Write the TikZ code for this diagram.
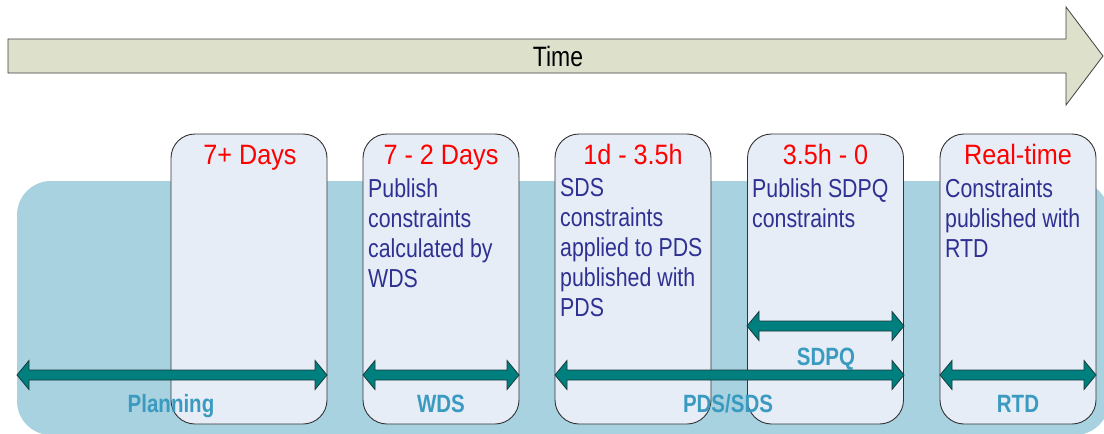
\documentclass[tikz,border=0pt]{standalone}
\usepackage{fontspec}
\setmainfont{Liberation Sans}[FakeStretch=0.82]
\newfontfamily\titlefont{Liberation Sans}[FakeStretch=0.9]
\definecolor{bgblue}{HTML}{A8D2E0}
\definecolor{boxfill}{HTML}{E6EDF7}
\definecolor{boxline}{HTML}{333333}
\definecolor{teal1}{HTML}{007F7F}
\definecolor{tealline}{HTML}{1A3A3A}
\definecolor{lblblue}{HTML}{3A9AC0}
\definecolor{navytext}{HTML}{2E3192}
\definecolor{timefill}{HTML}{DDE1CB}
\tikzset{
  phase/.style={draw=boxline, fill=boxfill, rounded corners=24pt, minimum width=156pt, minimum height=290pt, inner sep=0pt, line width=0.9pt},
  ttl/.style={text=red, font=\titlefont\fontsize{28}{30}\selectfont, anchor=base, inner sep=0pt},
  body/.style={text=navytext, font=\fontsize{26}{30}\selectfont, anchor=north west, align=left, inner sep=0pt},
  lbl/.style={text=lblblue, font=\bfseries\fontsize{25}{28}\selectfont, anchor=base, inner sep=0pt},
  arr/.style={fill=teal1, draw=tealline, line width=0.8pt, line join=miter},
}
\newcommand\spanarrow[3]{%
  \draw[arr] (#1,#3) -- (#1+12,#3-14.5) -- (#1+12,#3-5) -- (#2-12,#3-5) -- (#2-12,#3-14.5) -- (#2,#3) -- (#2-12,#3+14.5) -- (#2-12,#3+5) -- (#1+12,#3+5) -- (#1+12,#3+14.5) -- cycle;}
\begin{document}
\begin{tikzpicture}[x=1pt,y=-1pt]
\useasboundingbox (0,0) rectangle (1104,434);
\begin{scope}
\clip (0,0) rectangle (1104,434);
% background panel
\fill[bgblue, rounded corners=34pt] (17,181) rectangle (1109,435);
% time arrow
\draw[fill=timefill, draw=black!75, line width=0.8pt, line join=miter]
  (8,39) -- (1066,39) -- (1066,7) -- (1103,56) -- (1066,105) -- (1066,73) -- (8,73) -- cycle;
\end{scope}
\node[font=\fontsize{28}{30}\selectfont, inner sep=0pt] (time) at (558,56) {Time};
% phase boxes
\node[phase] (b1) at (249,279) {};
\node[phase] (b2) at (441,279) {};
\node[phase] (b3) at (633,279) {};
\node[phase] (b4) at (825.5,279) {};
\node[phase] (b5) at (1018,279) {};
% titles
\node[ttl] (t1) at (250,164) {7+ Days};
\node[ttl] (t2) at (441,164) {7 - 2 Days};
\node[ttl] (t3) at (633,164) {1d - 3.5h};
\node[ttl] (t4) at (825.5,164) {3.5h - 0};
\node[ttl] (t5) at (1018,164) {Real-time};
% body texts
\node[body] (d2) at (368,178) {Publish\\constraints\\calculated by\\WDS};
\node[body] (d3) at (560,178) {SDS\\constraints\\applied to PDS\\published with\\PDS};
\node[body] (d4) at (752,178) {Publish SDPQ\\constraints};
\node[body] (d5) at (945,178) {Constraints\\published with\\RTD};
% span arrows
\spanarrow{17}{327}{375}
\spanarrow{363}{519}{375}
\spanarrow{555}{904}{375}
\spanarrow{747}{904}{326}
\spanarrow{940}{1096}{375}
% labels
\node[lbl] (l1) at (171,412) {Planning};
\node[lbl] (l2) at (441,412) {WDS};
\node[lbl] (l3) at (728,412) {PDS/SDS};
\node[lbl] (l4) at (826,365) {SDPQ};
\node[lbl] (l5) at (1018,412) {RTD};
\end{tikzpicture}
\end{document}
